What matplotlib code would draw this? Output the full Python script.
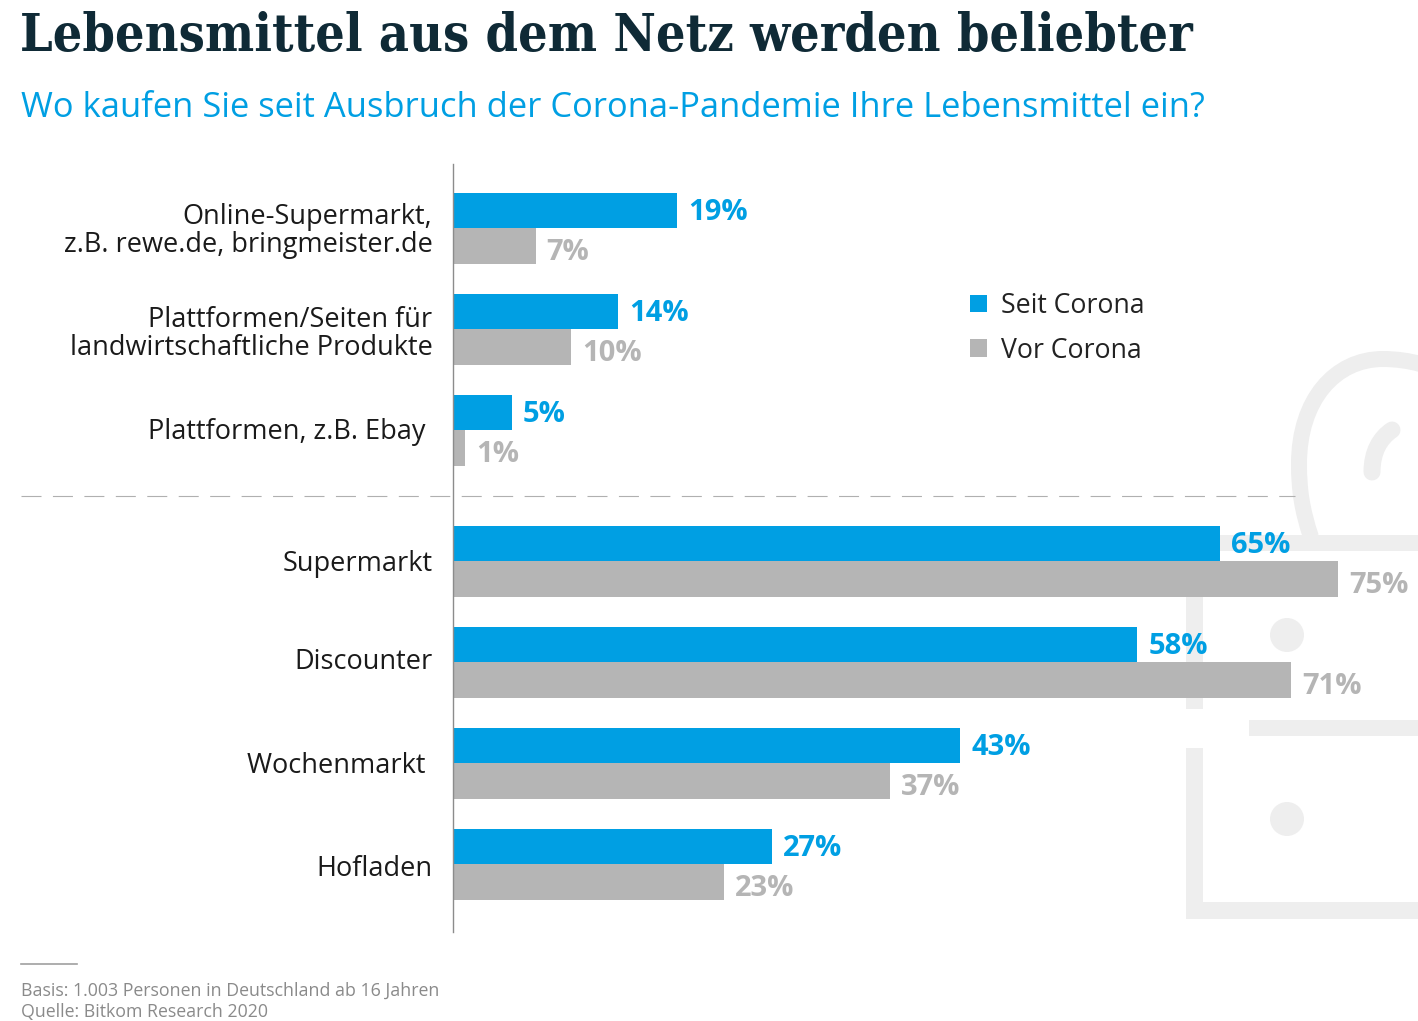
import matplotlib
matplotlib.use("Agg")
import matplotlib.pyplot as plt
from matplotlib.patches import Circle, PathPatch, Rectangle
from matplotlib.path import Path

categories = [
    "Online-Supermarkt,\nz.B. rewe.de, bringmeister.de",
    "Plattformen/Seiten für\nlandwirtschaftliche Produkte",
    "Plattformen, z.B. Ebay ",
    "Supermarkt",
    "Discounter",
    "Wochenmarkt ",
    "Hofladen",
]
seit_corona = [19, 14, 5, 65, 58, 43, 27]
vor_corona = [7, 10, 1, 75, 71, 37, 23]

BLUE = "#009fe3"
GRAY = "#b5b5b5"
DARK = "#0f2a36"
WM = "#eeeeee"
W, H = 1418, 1021
PX = 72 / 100  # points per pixel at dpi 100

plt.rcParams["font.family"] = ["Open Sans", "DejaVu Sans"]
fig = plt.figure(figsize=(W / 100, H / 100), dpi=100)

# pixel overlay for the furniture around the chart
bg = fig.add_axes([0, 0, 1, 1], zorder=0)
bg.set_xlim(0, W)
bg.set_ylim(H, 0)
bg.axis("off")

# watermark shapes behind the bars
for x, y, w, h in [
    (1186, 535, 232, 16),
    (1186, 535, 17, 174),
    (1249, 720, 169, 16),
    (1186, 748, 17, 171),
    (1186, 902, 232, 17),
]:
    bg.add_patch(Rectangle((x, y), w, h, color=WM, lw=0))
bg.add_patch(Circle((1287, 635), 17, color=WM, lw=0))
bg.add_patch(Circle((1287, 819), 17, color=WM, lw=0))
arch = Path(
    [(1311, 537), (1302, 510), (1299, 490), (1299, 464), (1299, 400), (1335, 359), (1383, 359), (1396, 359), (1410, 361), (1420, 364)],
    [Path.MOVETO] + [Path.CURVE4] * 9,
)
bg.add_patch(PathPatch(arch, fc="none", ec=WM, lw=16 * PX, capstyle="butt"))
hook = Path([(1372, 472), (1372, 452), (1380, 438), (1392, 430)], [Path.MOVETO] + [Path.CURVE4] * 3)
bg.add_patch(PathPatch(hook, fc="none", ec=WM, lw=17 * PX, capstyle="round"))

bg.plot([21, 1295], [496, 496], color="#b0b0b0", lw=0.8, dashes=(18, 10.3))
bg.plot([21, 77], [964, 964], color="#a0a0a0", lw=1.2)

bg.text(20, 37, "Lebensmittel aus dem Netz werden beliebter", family=["DejaVu Serif"], stretch="condensed",
        fontweight="bold", fontsize=37.4, color=DARK, va="center", ha="left")
bg.text(21, 108, "Wo kaufen Sie seit Ausbruch der Corona-Pandemie Ihre Lebensmittel ein?",
        fontsize=24.8, color=BLUE, va="center", ha="left")
bg.text(21, 991, "Basis: 1.003 Personen in Deutschland ab 16 Jahren", fontsize=12.75, color="#8a8a8a", va="center")
bg.text(21, 1012, "Quelle: Bitkom Research 2020", fontsize=12.75, color="#8a8a8a", va="center")

# bar axes: one row unit is 101 px, 11.8 px per percent
ax = fig.add_axes([453 / W, 1 - 932 / H, (W - 453) / W, 768 / H], zorder=1)
ax.patch.set_alpha(0)
ax.set_xlim(0, (W - 453) / 11.8)
ax.set_ylim(-0.6386 + 768 / 101, -0.6386)
rows = [i + (0.297 if i > 2 else 0) for i in range(len(categories))]
bar_h = 35.5 / 101
label_shift = [3, 5, 2, 3, 0, 3, 5]

b1 = ax.barh([r - bar_h / 2 for r in rows], seit_corona, height=bar_h, color=BLUE, label="Seit Corona")
b2 = ax.barh([r + bar_h / 2 for r in rows], vor_corona, height=bar_h, color=GRAY, label="Vor Corona")

for r, a, b in zip(rows, seit_corona, vor_corona):
    ax.annotate(f"{a}%", (a, r - bar_h / 2), xytext=(11 * PX, 1.5 * PX), textcoords="offset points",
                color=BLUE, fontweight="bold", fontsize=21, va="center_baseline")
    ax.annotate(f"{b}%", (b, r + bar_h / 2), xytext=(11 * PX, -3 * PX), textcoords="offset points",
                color=GRAY, fontweight="bold", fontsize=21, va="center_baseline")

for r, cat, dy in zip(rows, categories, label_shift):
    ax.annotate(cat, (0, r), xytext=(-20.5 * PX, -dy * PX), textcoords="offset points", ha="right", va="center",
                ma="right", fontsize=19.5, color="#1a1a1a", linespacing=1.0)

for s in ["top", "right", "bottom"]:
    ax.spines[s].set_visible(False)
ax.spines["left"].set_color("#8c8c8c")
ax.spines["left"].set_linewidth(1.0)
ax.set_xticks([])
ax.set_yticks([])

fig.legend(handles=[b1, b2], loc="upper left", bbox_to_anchor=(946 / W, 1 - 268 / H), frameon=False,
           fontsize=19.2, handlelength=0.64, handleheight=0.64, handletextpad=0.52, labelspacing=0.62,
           labelcolor="#222222")

fig.savefig("out.png", dpi=100)
